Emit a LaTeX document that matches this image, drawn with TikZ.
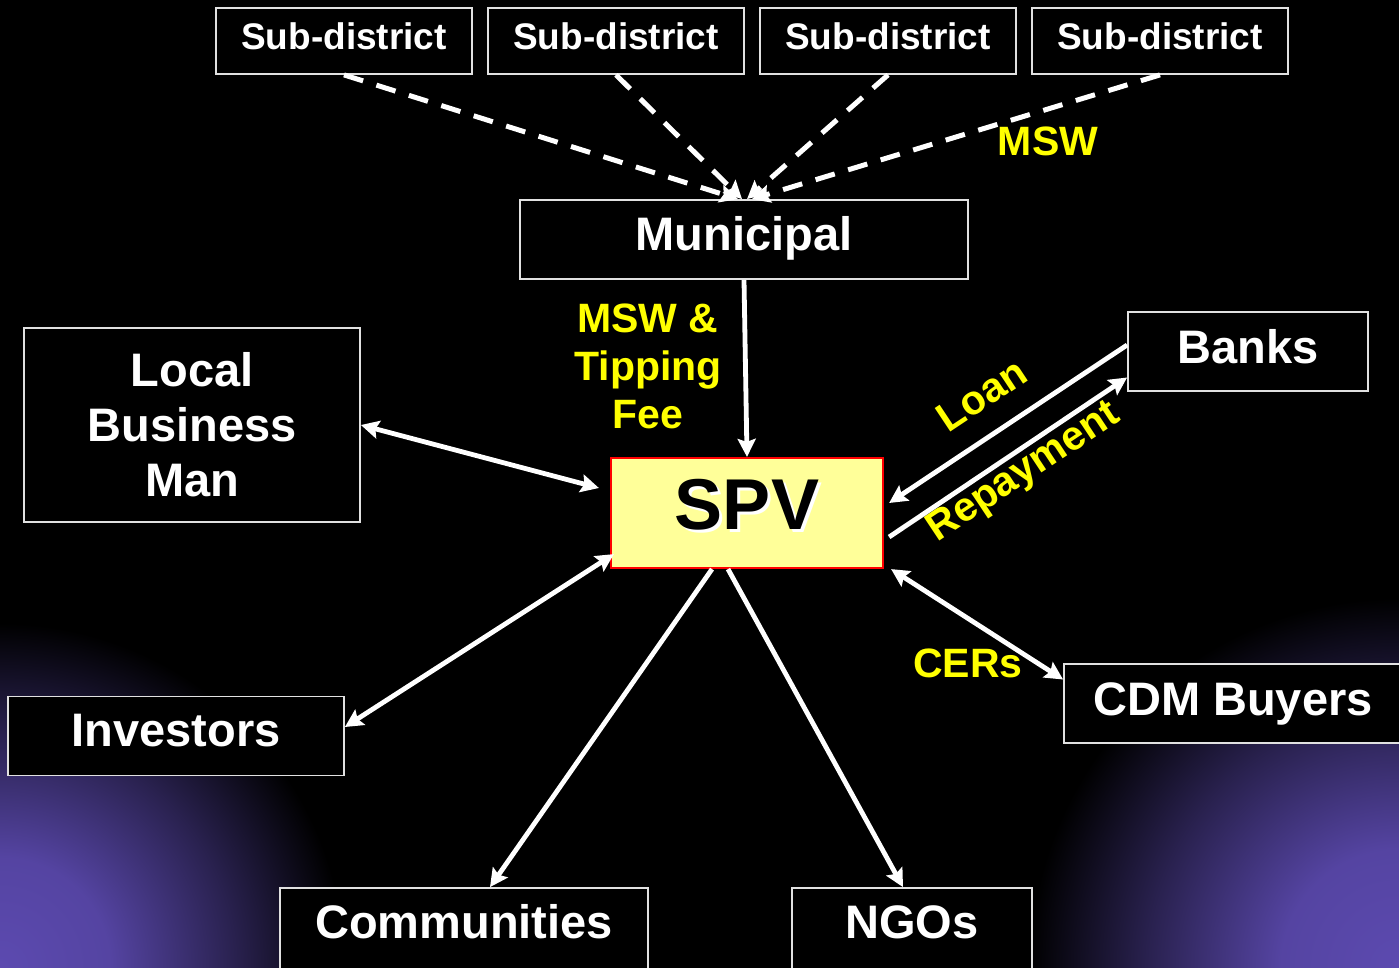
\documentclass[tikz,border=0pt]{standalone}
\usepackage{fontspec}
\setmainfont{Liberation Sans}
\usetikzlibrary{arrows.meta,calc}
\definecolor{purp}{RGB}{92,74,176}
\definecolor{boxline}{RGB}{225,225,225}
\definecolor{spvfill}{RGB}{255,255,153}
\definecolor{labyellow}{RGB}{255,255,0}
\pgfdeclareradialshading{cornerglow}{\pgfpoint{0bp}{0bp}}{color(0bp)=(purp); color(8bp)=(purp!92!black); color(17bp)=(purp!45!black); color(25bp)=(black); color(50bp)=(black)}
\begin{document}
\begin{tikzpicture}[x=1pt,y=-1pt,
  box/.style={draw=boxline,line width=1.8pt,fill=black,text=white,inner sep=0pt,font=\bfseries\fontsize{47}{55}\selectfont},
  subbox/.style={box,minimum width=256pt,minimum height=66pt,font=\bfseries\fontsize{37}{44}\selectfont,text height=26.5pt,text depth=9pt},
  lab/.style={text=labyellow,font=\bfseries\fontsize{41}{48}\selectfont,inner sep=0pt},
  tipA/.tip={Stealth[length=18pt,width=18pt,inset=3pt]},
  conn/.style={draw=white,line width=4.8pt,-tipA},
  both/.style={conn,tipA-tipA},
  dsh/.style={conn,line width=5pt,dash pattern=on 20pt off 14pt}]
\useasboundingbox (0,0) rectangle (1399,968);
\clip (0,0) rectangle (1399,968);
\fill[black] (0,0) rectangle (1399,968);
\shade[shading=cornerglow] (0,968) circle (345pt);
\shade[shading=cornerglow] (1399,968) circle (370pt);

\node[subbox] (sd1) at (344,41) {Sub-district};
\node[subbox] (sd2) at (616,41) {Sub-district};
\node[subbox] (sd3) at (888,41) {Sub-district};
\node[subbox] (sd4) at (1160,41) {Sub-district};
\node[box,minimum width=448pt,minimum height=79pt,text height=33.7pt,text depth=11pt] (mun) at (744,239.5) {Municipal};
\node[box,minimum width=336pt,minimum height=194pt,align=center] (lbm) at (192,425) {Local\\Business\\Man};
\node[box,minimum width=240pt,minimum height=79pt,text height=33.7pt,text depth=10pt] (banks) at (1248,351.5) {Banks};
\node[draw=red,line width=2.2pt,fill=spvfill,minimum width=272pt,minimum height=110pt,inner sep=0pt,text height=51.5pt,text depth=19pt,font=\bfseries\fontsize{72}{80}\selectfont] (spv) at (747,513) {\rlap{\kern3pt\raisebox{-3pt}{\textcolor{white}{SPV}}}SPV};
\node[box,minimum width=336pt,minimum height=79pt,text height=33.7pt,text depth=12pt] (inv) at (176,736) {Investors};
\node[box,minimum width=338pt,minimum height=79pt,text height=33.7pt,text depth=10pt] (cdm) at (1233,703.5) {CDM Buyers};
\node[box,minimum width=368pt,minimum height=90pt,text height=33.7pt,text depth=22pt] (comm) at (464,933) {Communities};
\node[box,minimum width=240pt,minimum height=90pt,text height=33.7pt,text depth=22pt] (ngos) at (912,933) {NGOs};

\node[lab] (lmsw) at (1048,141) {MSW};
\node[lab,align=center] (ltip) at (648,366) {MSW \&\\Tipping\\Fee};
\node[lab,rotate=33.6] (lloan) at (982,395) {Loan};
\node[lab,rotate=33.6] (lrep) at (1024,473) {Repayment};
\node[lab] (lcer) at (968,663) {CERs};

\draw[dsh] (sd1.south) -- ([xshift=-6pt]mun.north);
\draw[dsh] (sd2.south) -- ([xshift=-2pt]mun.north);
\draw[dsh] (sd3.south) -- ([xshift=3pt]mun.north);
\draw[dsh] (sd4.south) -- ([xshift=8pt]mun.north);

\draw[conn] (mun.south) -- (spv.north);
\draw[both] (lbm.east) -- ([xshift=-11pt,yshift=25pt]spv.west);
\draw[both] ([yshift=9pt]inv.east) -- ([xshift=4pt,yshift=15pt]spv.south west);
\draw[conn] ([xshift=-35pt]spv.south) -- ([xshift=26pt]comm.north);
\draw[conn] ([xshift=-19pt]spv.south) -- ([xshift=-9pt]ngos.north);
\draw[conn] ([yshift=6.5pt]banks.west) -- ([xshift=5pt,yshift=10pt]spv.east);
\draw[conn] ([xshift=5pt,yshift=-24pt]spv.east) -- ([yshift=-26pt]banks.west);
\draw[both] ([xshift=7pt]spv.south east) -- ([yshift=24pt]cdm.west);
\end{tikzpicture}
\end{document}
